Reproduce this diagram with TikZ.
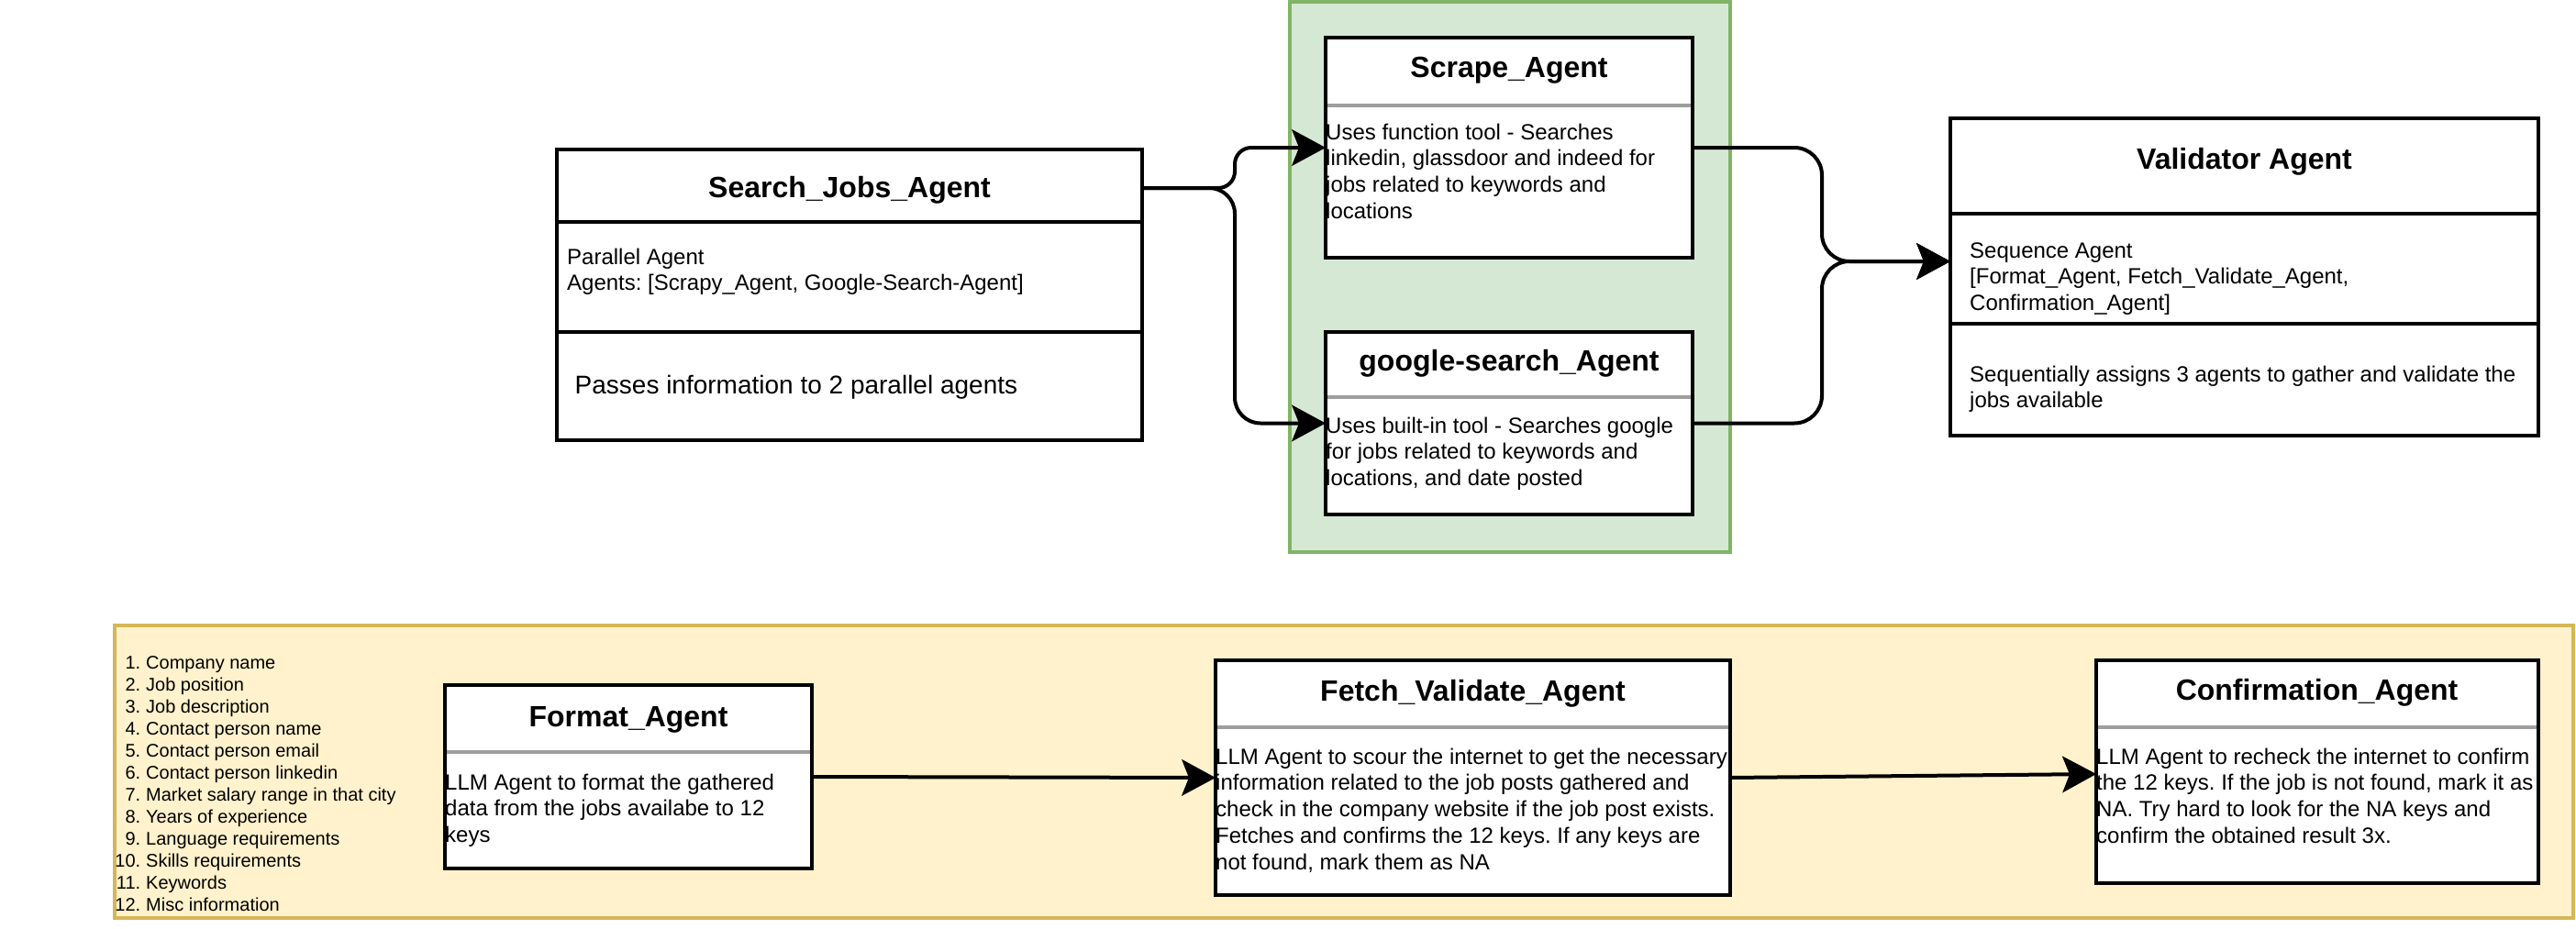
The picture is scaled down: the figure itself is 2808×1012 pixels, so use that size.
\documentclass[tikz,border=0pt]{standalone}
\usepackage{fontspec}
\setmainfont{Liberation Sans}
\usetikzlibrary{arrows.meta,calc}
\definecolor{gfill}{HTML}{D5E8D4}
\definecolor{gline}{HTML}{82B366}
\definecolor{yfill}{HTML}{FFF2CC}
\definecolor{yline}{HTML}{D6B656}
\definecolor{sepgray}{HTML}{9E9E9E}
\frenchspacing
\begin{document}
\begin{tikzpicture}[x=1pt,y=-1pt,
  card/.style={draw=black, fill=white, line width=4pt, rectangle, inner sep=0pt, outer sep=0pt, anchor=north west},
  grp/.style={rectangle, line width=4pt, inner sep=0pt, outer sep=0pt, anchor=north west},
  ttl/.style={font=\fontsize{32}{38.4}\selectfont\bfseries, inner sep=0pt, anchor=base},
  body/.style={font=\fontsize{24}{28.8}\selectfont\frenchspacing, inner sep=0pt, anchor=north west, align=left},
  bigtxt/.style={font=\fontsize{28}{33.6}\selectfont, inner sep=0pt, anchor=base west},
  small/.style={font=\fontsize{20}{24}\selectfont, inner sep=0pt},
  sepline/.style={draw=sepgray, line width=4pt},
  divline/.style={draw=black, line width=4pt},
  arr/.style={draw=black, line width=4pt, -{Stealth[length=37pt,width=40pt,inset=8pt,line width=1pt]}},
]
\useasboundingbox (0,0) rectangle (2808,1012);

% containers
\node[grp, draw=gline, fill=gfill, minimum width=480pt, minimum height=600pt] (green) at (1406,2) {};
\node[grp, draw=yline, fill=yfill, minimum width=2680pt, minimum height=319pt] (yellow) at (125,682) {};

% Search_Jobs_Agent
\node[card, minimum width=638pt, minimum height=317pt] (sj) at (607,163) {};
\draw[divline] (607,242) -- (1245,242);
\draw[divline] (607,362) -- (1245,362);
\node[ttl] (sjt) at (926,215) {Search\_Jobs\_Agent};
\node[body] (sjb) at (618,267.8) {\strut Parallel Agent\\Agents: [Scrapy\_Agent, Google-Search-Agent]};
\node[bigtxt] (sjc) at (626.5,429) {Passes information to 2 parallel agents};

% Scrape_Agent
\node[card, minimum width=400pt, minimum height=240pt] (scrape) at (1445,41) {};
\draw[sepline] (1447,115) -- (1843,115);
\node[ttl] (scrapet) at (1645,84) {Scrape\_Agent};
\node[body] (scrapeb) at (1445,131.8) {\strut Uses function tool - Searches\\linkedin, glassdoor and indeed for\\jobs related to keywords and\\locations};

% google-search_Agent
\node[card, minimum width=400pt, minimum height=199pt] (google) at (1445,362) {};
\draw[sepline] (1447,433) -- (1843,433);
\node[ttl] (googlet) at (1645,404) {google-search\_Agent};
\node[body] (googleb) at (1445,451.8) {\strut Uses built-in tool - Searches google\\for jobs related to keywords and\\locations, and date posted};

% Validator Agent
\node[card, minimum width=641pt, minimum height=346pt] (val) at (2126,129) {};
\draw[divline] (2126,233) -- (2767,233);
\draw[divline] (2126,353) -- (2767,353);
\node[ttl] (valt) at (2446.5,184) {Validator Agent};
\node[body] (valb) at (2147,260.8) {\strut Sequence Agent\\{}[Format\_Agent, Fetch\_Validate\_Agent,\\Confirmation\_Agent]};
\node[body] (valc) at (2147,395.8) {\strut Sequentially assigns 3 agents to gather and validate the\\jobs available};

% list of keys
\foreach \n/\t [count=\i from 0] in {1/Company name, 2/Job position, 3/Job description, 4/Contact person name, 5/Contact person email, 6/Contact person linkedin, 7/Market salary range in that city, 8/Years of experience, 9/Language requirements, 10/Skills requirements, 11/Keywords, 12/Misc information}{
  \node[small, anchor=base east] (ln\n) at (153.5,729+24*\i) {\n.};
  \node[small, anchor=base west] (li\n) at (159,729+24*\i) {\t};
}

% Format_Agent
\node[card, minimum width=400pt, minimum height=200pt] (fmt) at (485,747) {};
\draw[sepline] (487,820) -- (883,820);
\node[ttl] (fmtt) at (685,792) {Format\_Agent};
\node[body] (fmtb) at (485,840.8) {\strut LLM Agent to format the gathered\\data from the jobs availabe to 12\\keys};

% Fetch_Validate_Agent
\node[card, minimum width=561pt, minimum height=256pt] (fetch) at (1325,720) {};
\draw[sepline] (1327,793) -- (1884,793);
\node[ttl] (fetcht) at (1605.5,764) {Fetch\_Validate\_Agent};
\node[body] (fetchb) at (1325,812.8) {\strut LLM Agent to scour the internet to get the necessary\\information related to the job posts gathered and\\check in the company website if the job post exists.\\Fetches and confirms the 12 keys. If any keys are\\not found, mark them as NA};

% Confirmation_Agent
\node[card, minimum width=482pt, minimum height=243pt] (conf) at (2285,720) {};
\draw[sepline] (2287,793) -- (2765,793);
\node[ttl] (conft) at (2525.5,763) {Confirmation\_Agent};
\node[body] (confb) at (2285,812.8) {\strut LLM Agent to recheck the internet to confirm\\the 12 keys. If the job is not found, mark it as\\NA. Try hard to look for the NA keys and\\confirm the obtained result 3x.};

% connectors
\coordinate (sjout) at ($(sj.north east)+(0,42)$);
\coordinate (valin) at ($(val.north west)+(0,156)$);
\coordinate (bendL) at (1346,0);
\coordinate (bendR) at (1986,0);
\coordinate (confin) at ($(conf.north west)+(0,124)$);
\draw[arr, rounded corners=18pt] (sjout) -| (bendL |- scrape.west) -- (scrape.west);
\draw[arr, rounded corners=28pt] (sjout) -| (bendL |- google.west) -- (google.west);
\draw[arr, rounded corners=30pt] (scrape.east) -| (bendR |- valin) -- (valin);
\draw[arr, rounded corners=30pt] (google.east) -| (bendR |- valin) -- (valin);
\draw[arr] (fmt.east) -- (fetch.west);
\draw[arr] (fetch.east) -- (confin);
\end{tikzpicture}
\end{document}
